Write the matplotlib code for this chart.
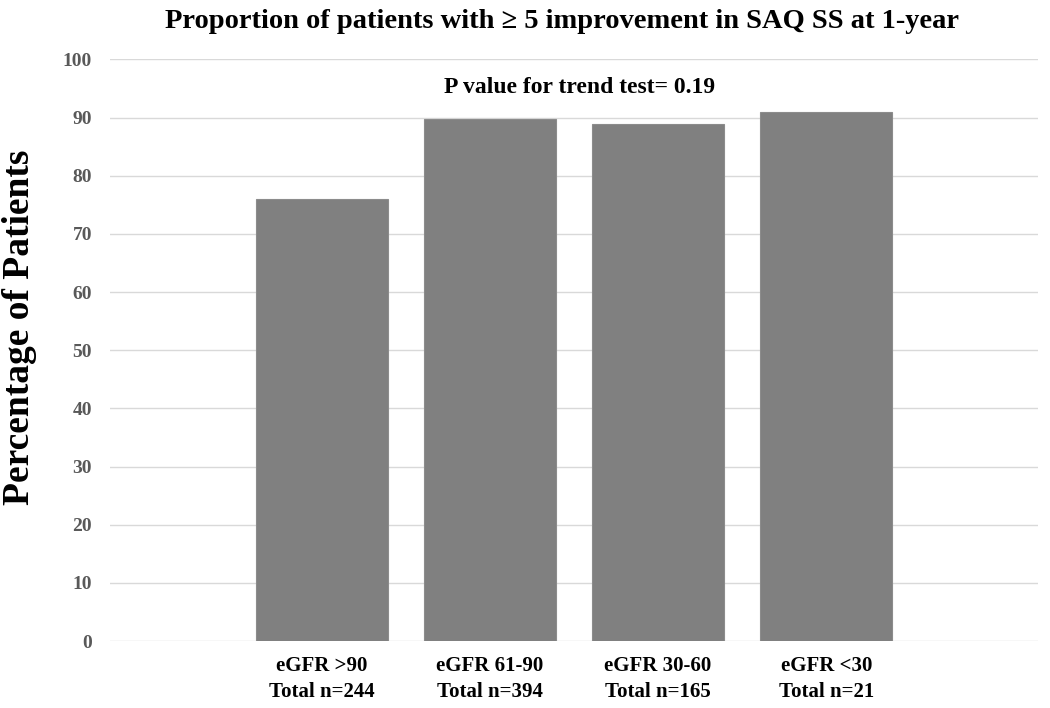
import matplotlib
matplotlib.use("Agg")
import matplotlib.pyplot as plt
import numpy as np

plt.rcParams['font.family'] = ['Liberation Serif', 'DejaVu Serif']
plt.rcParams['font.weight'] = 'bold'

categories = ["eGFR >90\nTotal n=244", "eGFR 61-90\nTotal n=394",
              "eGFR 30-60\nTotal n=165", "eGFR <30\nTotal n=21"]
percentages = [76.0, 89.8, 88.9, 90.9]
y_ticks = [0, 10, 20, 30, 40, 50, 60, 70, 80, 90, 100]

fig = plt.figure(figsize=(10.5, 7.08), dpi=100)
ax = fig.add_axes([0.1048, 0.0946, 0.8838, 0.8214])

x = np.arange(len(categories))
ax.bar(x, percentages, width=0.786, color="#808080", edgecolor="#8c8c8c",
       linewidth=0.8, zorder=3)

ax.set_xlim(-1.26, 4.26)
ax.set_ylim(0, 100)
ax.set_yticks(y_ticks)
ax.set_yticklabels([str(t) for t in y_ticks], fontsize=14, fontweight='bold', color="#595959")
ax.set_xticks(x)
ax.set_xticklabels(categories, fontsize=15, fontweight='bold', color="black", linespacing=1.35)
ax.tick_params(axis='both', length=0)
ax.tick_params(axis='y', pad=13)
ax.tick_params(axis='x', pad=11)

ax.grid(axis='y', color="#d9d9d9", linewidth=1, zorder=0)
for s in ax.spines.values():
    s.set_visible(False)

ax.set_ylabel("Percentage of Patients", fontsize=27, fontweight='bold')
ax.yaxis.set_label_coords(-0.079, 0.539)
fig.text(0.535, 0.969, "Proportion of patients with \u2265 5 improvement in SAQ SS at 1-year",
         ha='center', va='center', fontsize=20.5, fontweight='bold')
ax.text(1.53, 95.1, "P value for trend test= 0.19", ha='center', va='center',
        fontsize=17, fontweight='bold')

fig.savefig("out.png", dpi=100)
